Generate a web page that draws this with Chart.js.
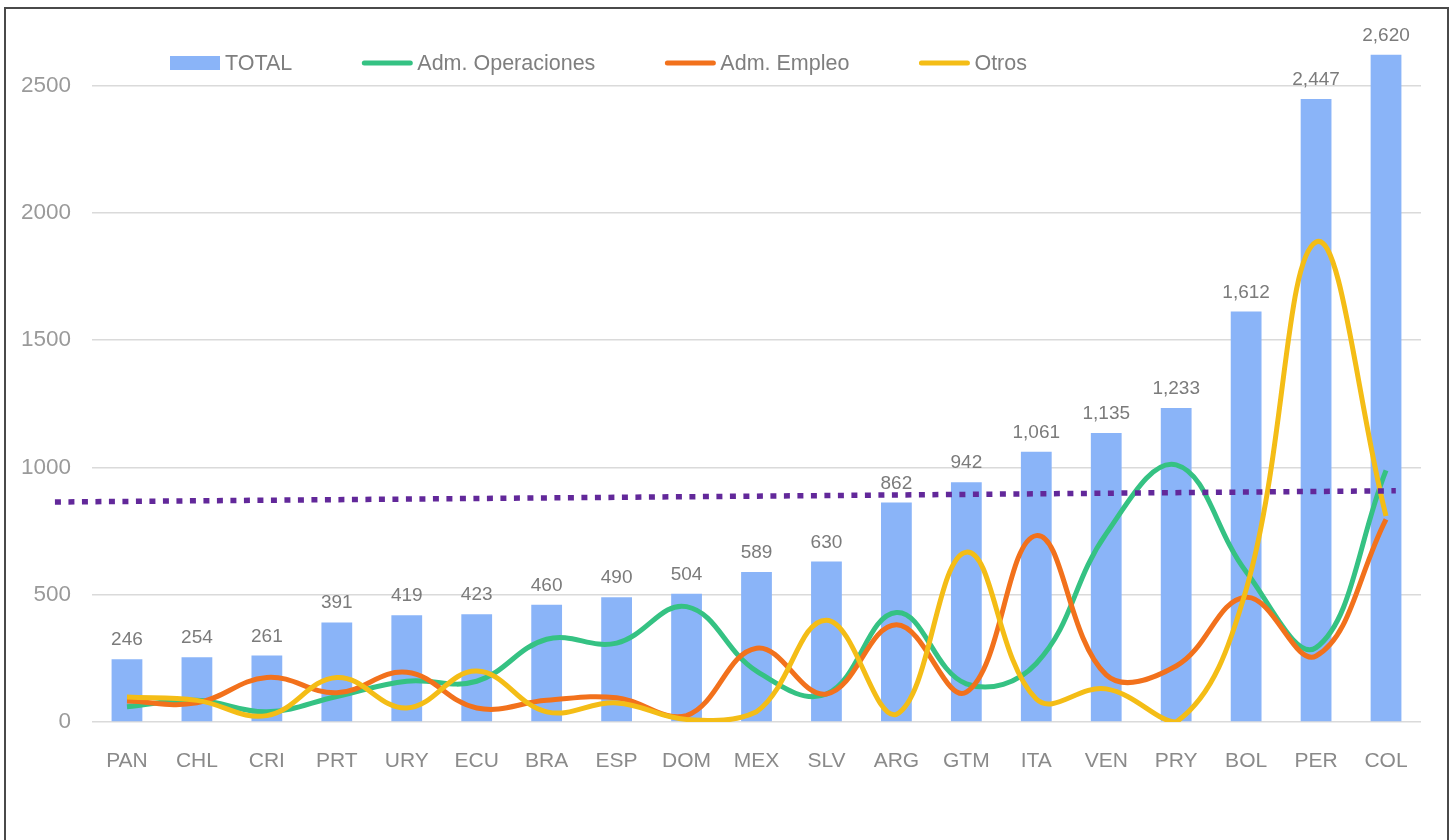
<!DOCTYPE html>
<html>
<head>
<meta charset="utf-8">
<script src="https://cdn.jsdelivr.net/npm/chart.js@4.4.1/dist/chart.umd.min.js"></script>
<style>
    html, body { margin: 0; padding: 0; background: #fff; }
    #wrap { position: relative; width: 1453px; height: 840px; }
    #chart { position: absolute; left: 0; top: 0; }
    #frame {
        position: absolute; left: 4px; top: 7px; width: 1441px; height: 840px;
        border-left: 2px solid #4a4a4a; border-top: 2px solid #4a4a4a; border-right: 2px solid #4a4a4a;
        pointer-events: none;
    }
</style>
</head>
<body>
<div id="wrap">
    <canvas id="chart" width="1453" height="840"></canvas>
    <div id="frame"></div>
</div>
<script>
// categories (countries)
const countries = ["PAN", "CHL", "CRI", "PRT", "URY", "ECU", "BRA", "ESP", "DOM", "MEX",
    "SLV", "ARG", "GTM", "ITA", "VEN", "PRY", "BOL", "PER", "COL"];

// series values
const total = [246, 254, 261, 391, 419, 423, 460, 490, 504, 589,
    630, 862, 942, 1061, 1135, 1233, 1612, 2447, 2620];
const admOperaciones = [60, 85, 40, 100, 160, 160, 325, 310, 453, 200,
    110, 430, 150, 230, 740, 1010, 590, 292, 988];
const admEmpleo = [82, 75, 175, 115, 195, 55, 85, 95, 25, 290,
    110, 382, 117, 732, 185, 220, 490, 259, 796];
const otros = [98, 85, 25, 175, 55, 200, 40, 75, 10, 40,
    400, 30, 667, 90, 130, 0, 520, 1885, 809];

// dotted average line, read at its two ends (x = category position)
const trendPoints = [{ x: -1.03, y: 864 }, { x: 18.14, y: 908 }];

// y axis ticks
const yTicks = [0, 500, 1000, 1500, 2000, 2500];

const FONT = "'Liberation Sans', Arial, sans-serif";

// value labels above the bars
const barLabels = {
    id: 'barLabels',
    afterDatasetsDraw(chart) {
        const ctx = chart.ctx;
        const meta = chart.getDatasetMeta(0);
        ctx.save();
        ctx.font = "19px " + FONT;
        ctx.fillStyle = "#7b7b7b";
        ctx.textAlign = "center";
        ctx.textBaseline = "alphabetic";
        meta.data.forEach((bar, i) => {
            const txt = total[i].toLocaleString('en-US');
            ctx.fillText(txt, bar.x, Math.max(bar.y - 14, 39));
        });
        ctx.restore();
    }
};

// legend drawn inside the plot, like the original
const topLegend = {
    id: 'topLegend',
    afterDraw(chart) {
        const ctx = chart.ctx;
        const y = 63;
        let x = 170;
        ctx.save();
        ctx.font = "21.5px " + FONT;
        ctx.textBaseline = "middle";
        ctx.textAlign = "left";
        chart.data.datasets.forEach(ds => {
            if (!ds.label) return;
            if (ds.type === 'line') {
                ctx.strokeStyle = ds.borderColor;
                ctx.lineWidth = 5;
                ctx.lineCap = "round";
                ctx.beginPath();
                ctx.moveTo(x + 2, y);
                ctx.lineTo(x + 48, y);
                ctx.stroke();
            } else {
                ctx.fillStyle = ds.backgroundColor;
                ctx.fillRect(x, y - 7, 50, 14);
            }
            ctx.fillStyle = "#7f7f7f";
            ctx.fillText(ds.label, x + 55, y + 1);
            x += 55 + ctx.measureText(ds.label).width + 70;
        });
        ctx.restore();
    }
};

const ctx = document.getElementById('chart').getContext('2d');
const myChart = new Chart(ctx, {
    type: 'bar',
    data: {
        labels: countries,
        datasets: [{
            label: 'TOTAL',
            data: total,
            backgroundColor: '#8ab4f8',
            barPercentage: 0.44,
            categoryPercentage: 1,
            grouped: false,
            order: 5
        }, {
            type: 'line',
            label: 'Adm. Operaciones',
            data: admOperaciones,
            borderColor: '#35c283',
            borderWidth: 5,
            pointRadius: 0,
            tension: 0.4,
            order: 3
        }, {
            type: 'line',
            label: 'Adm. Empleo',
            data: admEmpleo,
            borderColor: '#f2711c',
            borderWidth: 5,
            pointRadius: 0,
            tension: 0.4,
            order: 2
        }, {
            type: 'line',
            label: 'Otros',
            data: otros,
            borderColor: '#f4bd16',
            borderWidth: 5,
            pointRadius: 0,
            tension: 0.4,
            order: 1
        }, {
            type: 'line',
            label: '',
            data: trendPoints,
            xAxisID: 'xt',
            borderColor: '#62289a',
            borderWidth: 5.5,
            borderDash: [6, 7.5],
            pointRadius: 0,
            tension: 0,
            clip: false,
            order: 0
        }]
    },
    options: {
        responsive: false,
        animation: false,
        layout: { padding: { top: 25, right: 32, left: 0, bottom: 0 } },
        plugins: {
            legend: { display: false },
            tooltip: { enabled: false }
        },
        scales: {
            x: {
                grid: { display: false },
                border: { display: false },
                ticks: { color: '#8a8a8a', font: { family: FONT, size: 21 }, padding: 19, maxRotation: 0 },
                afterFit: (scale) => { scale.height = 118; }
            },
            xt: {
                type: 'linear',
                display: false,
                offset: false,
                grid: { offset: false },
                min: -0.5,
                max: 18.5
            },
            y: {
                min: 0,
                max: 2700,
                grid: { color: '#dadada', lineWidth: 1.5, drawTicks: false },
                border: { display: false },
                ticks: {
                    color: '#9a9a9a', font: { family: FONT, size: 22.5 }, padding: 21,
                    callback: (v) => String(v)
                },
                afterBuildTicks: (scale) => { scale.ticks = yTicks.map(v => ({ value: v })); },
                afterFit: (scale) => { scale.width = 92; }
            }
        }
    },
    plugins: [barLabels, topLegend]
});
</script>
</body>
</html>
